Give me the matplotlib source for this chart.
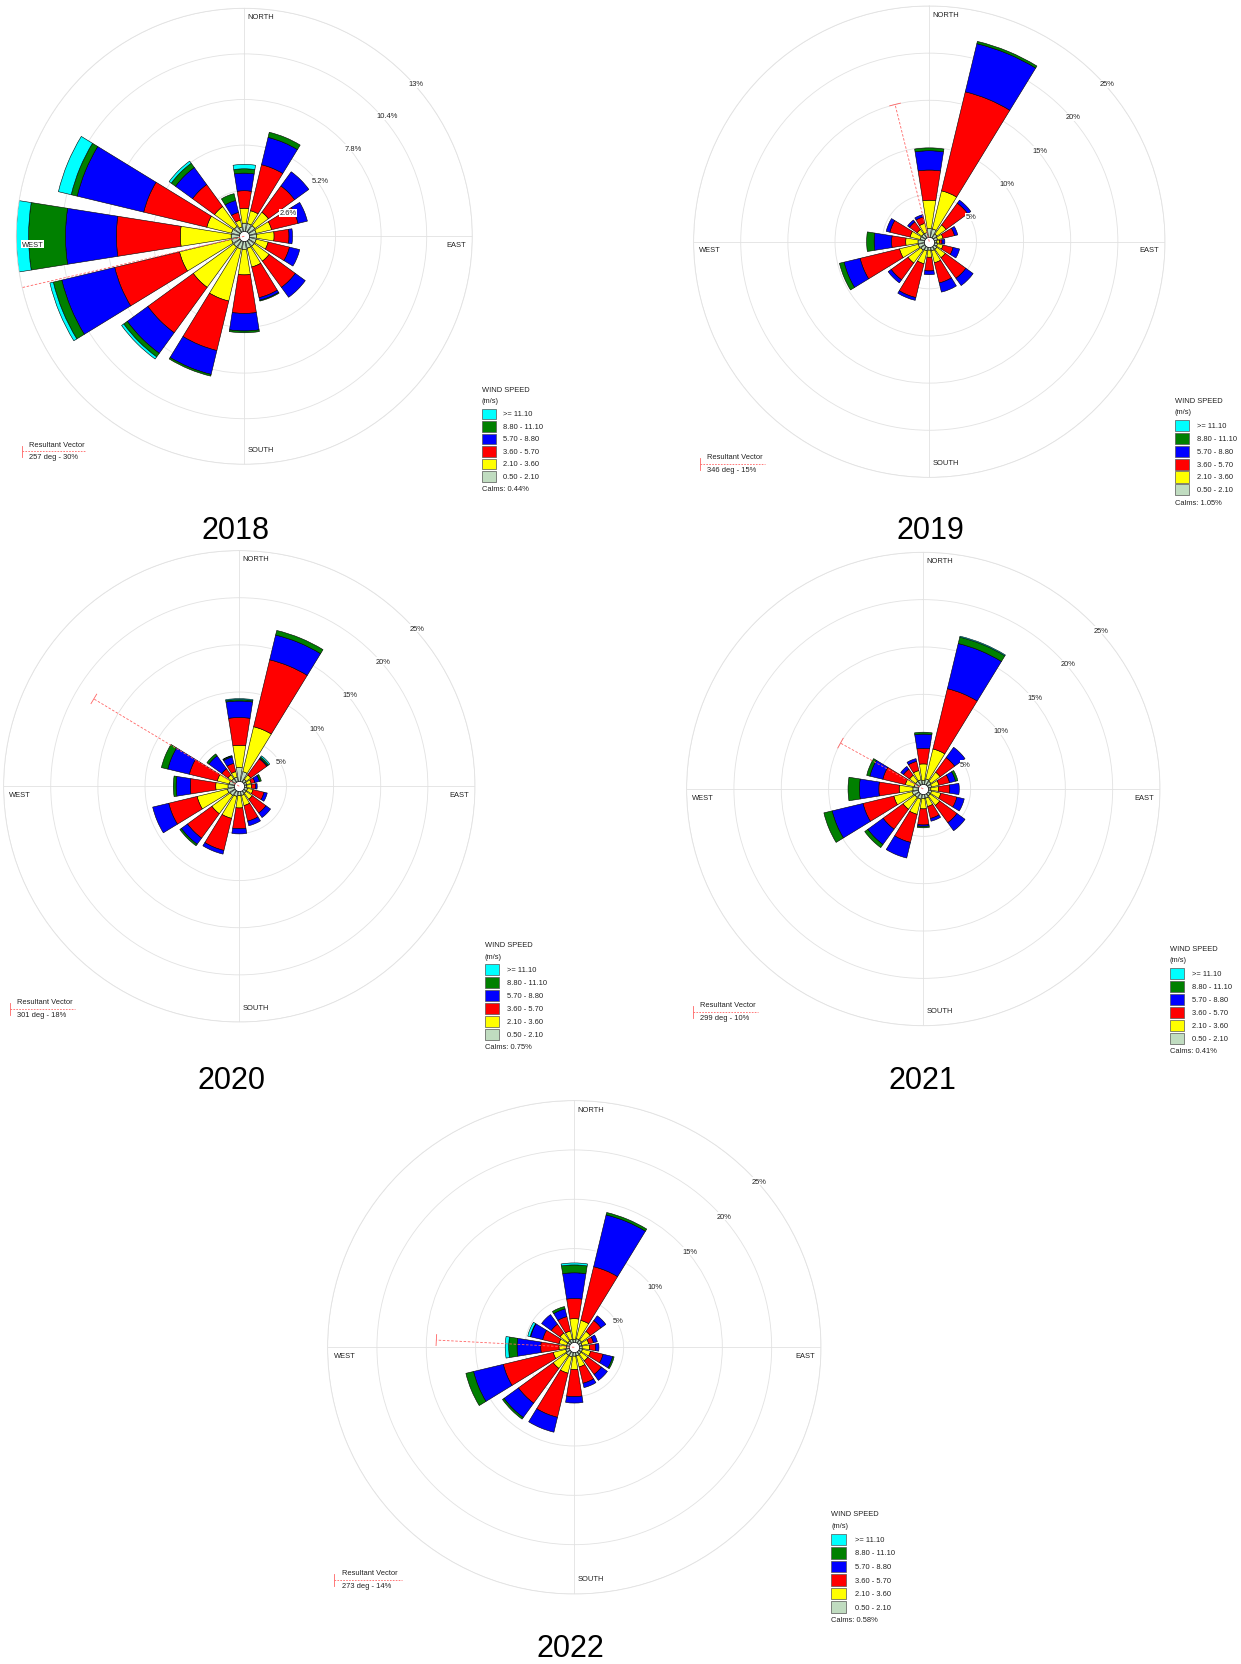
import numpy as np
import matplotlib
matplotlib.use('Agg')
import matplotlib.pyplot as plt
from matplotlib.patches import Rectangle
from matplotlib.lines import Line2D
from matplotlib.transforms import offset_copy

plt.rcParams['font.family'] = ['Liberation Sans', 'DejaVu Sans']

W_PX, H_PX = 1241, 1665

directions = ['N', 'NNE', 'NE', 'ENE', 'E', 'ESE', 'SE', 'SSE',
              'S', 'SSW', 'SW', 'WSW', 'W', 'WNW', 'NW', 'NNW']
dir_deg = np.arange(16) * 22.5

speed_labels = ['0.50 - 2.10', '2.10 - 3.60', '3.60 - 5.70',
                '5.70 - 8.80', '8.80 - 11.10', '>= 11.10']
speed_colors = ['#c0dcc0', '#ffff00', '#ff0000', '#0000ff', '#008000', '#00ffff']

# frequency (%) : one row per speed class, columns N .. NNW
freq_2018 = [
    [0.75, 0.75, 0.75, 0.7, 0.7, 0.7, 0.7, 0.7, 0.75, 0.75, 0.75, 0.75, 0.75, 0.75, 0.7, 0.55],
    [0.85, 0.75, 0.95, 0.9, 1.0, 0.7, 1.05, 1.1, 1.45, 3.05, 2.85, 3.05, 2.9, 1.45, 1.4, 0.4],
    [1.0, 2.7, 1.85, 1.55, 0.85, 1.25, 1.85, 1.8, 2.2, 2.9, 3.2, 3.8, 3.65, 3.7, 1.55, 0.45],
    [1.0, 1.6, 1.0, 0.55, 0.2, 0.6, 0.7, 0.15, 1.0, 1.4, 1.45, 3.1, 2.9, 3.9, 1.2, 0.7],
    [0.25, 0.3, 0, 0, 0, 0, 0, 0.05, 0.1, 0.1, 0.25, 0.5, 2.1, 0.35, 0.3, 0.4],
    [0.25, 0, 0, 0, 0, 0, 0, 0, 0, 0, 0.15, 0.2, 0.7, 0.75, 0.15, 0],
]
freq_2019 = [
    [1.4, 1.4, 1.0, 0.9, 0.8, 0.9, 1.0, 1.0, 0.9, 1.0, 1.1, 1.2, 1.2, 1.0, 1.0, 1.0],
    [3.0, 4.15, 1.2, 0.6, 0.3, 0.6, 1.1, 1.3, 0.75, 1.4, 1.7, 2.05, 1.3, 1.1, 0.6, 1.0],
    [3.2, 10.8, 2.85, 1.25, 0.25, 1.1, 2.7, 2.2, 1.45, 3.7, 2.2, 4.3, 1.5, 2.2, 1.0, 0.7],
    [2.05, 5.25, 0.4, 0.35, 0.3, 0.7, 0.95, 1.0, 0.4, 0.3, 0.4, 1.75, 1.85, 0.4, 0.25, 0.25],
    [0.3, 0.25, 0, 0, 0, 0, 0, 0, 0, 0, 0, 0.5, 0.8, 0, 0, 0],
    [0, 0, 0, 0, 0, 0, 0, 0, 0, 0, 0, 0, 0, 0, 0, 0],
]
freq_2020 = [
    [2.0, 1.6, 0.9, 0.8, 0.8, 0.9, 0.9, 1.0, 1.0, 1.1, 1.2, 1.3, 1.2, 1.1, 1.0, 1.0],
    [2.35, 4.9, 0.6, 0.5, 0.5, 0.6, 0.8, 1.1, 1.3, 2.4, 2.4, 3.3, 1.3, 1.3, 0.5, 0.6],
    [2.95, 7.3, 2.1, 0.4, 0.45, 1.2, 1.8, 1.7, 2.2, 3.5, 3.2, 3.1, 2.7, 3.05, 0.8, 0.9],
    [1.75, 2.7, 0.1, 0.5, 0.15, 0.35, 0.6, 0.5, 0.55, 0.4, 0.8, 1.75, 1.5, 2.35, 1.7, 0.7],
    [0.15, 0.5, 0.15, 0.2, 0, 0, 0, 0, 0, 0, 0.2, 0, 0.3, 0.7, 0.25, 0.1],
    [0.1, 0, 0.15, 0, 0, 0, 0, 0, 0, 0, 0, 0, 0, 0, 0, 0.05],
]
freq_2021 = [
    [0.9, 1.1, 1.0, 0.9, 0.8, 0.9, 0.9, 1.0, 1.0, 1.1, 1.1, 1.2, 1.1, 1.0, 1.0, 1.0],
    [1.75, 3.25, 1.2, 0.8, 0.8, 1.0, 1.25, 0.9, 1.1, 1.65, 1.55, 2.0, 1.45, 0.95, 0.8, 1.0],
    [1.65, 6.55, 1.9, 1.15, 1.2, 1.75, 2.25, 1.3, 1.7, 3.05, 2.6, 3.35, 2.15, 2.45, 0.8, 1.0],
    [1.5, 4.9, 1.35, 0.65, 1.0, 0.8, 1.05, 0.3, 0.15, 1.7, 2.0, 3.35, 2.05, 1.4, 0.35, 0.3],
    [0.2, 0.7, 0, 0.25, 0, 0, 0, 0, 0.15, 0, 0.4, 0.9, 1.2, 0.35, 0, 0],
    [0, 0.1, 0, 0, 0, 0, 0, 0, 0, 0, 0, 0, 0, 0, 0, 0],
]
freq_2022 = [
    [0.8, 0.9, 0.9, 0.8, 0.8, 0.85, 0.85, 0.9, 0.9, 1.0, 1.0, 0.9, 0.8, 0.8, 0.8, 0.85],
    [2.1, 1.9, 1.1, 0.7, 0.75, 0.85, 0.85, 1.15, 1.35, 1.7, 1.65, 1.3, 0.75, 0.8, 1.0, 0.85],
    [2.05, 5.6, 1.35, 0.5, 0.6, 1.3, 1.7, 1.7, 2.75, 4.6, 4.35, 5.2, 1.85, 1.7, 1.1, 1.5],
    [2.6, 5.4, 0.6, 0.4, 0.35, 1.0, 0.75, 0.45, 0.65, 1.55, 1.8, 3.1, 2.4, 1.25, 1.2, 0.8],
    [0.8, 0.25, 0, 0, 0, 0.15, 0, 0, 0, 0, 0.2, 0.8, 0.85, 0.05, 0, 0.25],
    [0.2, 0, 0, 0, 0, 0, 0, 0, 0, 0, 0, 0, 0.35, 0.25, 0, 0],
]

years = ['2018', '2019', '2020', '2021', '2022']
freqs = [freq_2018, freq_2019, freq_2020, freq_2021, freq_2022]
calms = ['0.44', '1.05', '0.75', '0.41', '0.58']
res_dir = [257, 346, 301, 299, 273]
res_pct = [30, 15, 18, 10, 14]
ring_steps = [2.6, 5, 5, 5, 5]

# layout in pixels: rose centre x, y, radius of outer ring, title position
panels = [
    (244.3, 237.3, 228.0, 235.7, 530.8),
    (929.3, 242.7, 235.7, 930.0, 530.8),
    (239.3, 787.3, 235.7, 231.4, 1080.7),
    (923.3, 790.0, 236.7, 922.5, 1080.7),
    (574.3, 1348.3, 246.7, 570.0, 1648.7),
]

FS = 5.4
TXT = '#222222'
GRID = '#e2e2e2'
RES_COLOR = '#ff6464'


def draw_rose(fig, cx, cy, R, freq, step, rdeg, rpct):
    rect = [(cx - R) / W_PX, 1 - (cy + R) / H_PX, 2 * R / W_PX, 2 * R / H_PX]
    ax = fig.add_axes(rect, projection='polar')
    ax.set_theta_zero_location('N')
    ax.set_theta_direction(-1)
    rmax = step * 5
    rings = [round(step * i, 1) for i in range(1, 6)]
    ax.set_ylim(0, rmax)
    ax.set_yticks(rings)
    ax.set_yticklabels([])
    ax.set_xticks(np.radians([0, 90, 180, 270]))
    ax.set_xticklabels([])
    ax.grid(True, color=GRID, linewidth=0.6)
    ax.spines['polar'].set_color(GRID)
    ax.spines['polar'].set_linewidth(0.6)
    ax.set_axisbelow(True)

    theta = np.radians(dir_deg)
    bottom = np.zeros(16)
    for k in range(6):
        h = np.array(freq[k], dtype=float)
        m = h > 0
        ax.bar(theta[m], h[m], width=np.radians(18), bottom=bottom[m],
               color=speed_colors[k], edgecolor='black', linewidth=0.4, zorder=2)
        bottom += h

    ax.scatter([0], [0], s=55, c='white', edgecolors='black', linewidths=0.5, zorder=5)

    # resultant vector
    th = np.radians(rdeg)
    ax.plot([th, th], [0, rpct], color=RES_COLOR, lw=0.6, ls=(0, (3, 2)), zorder=6)
    hh = 5.5 * rmax / R
    px, py = rpct * np.sin(th), rpct * np.cos(th)
    ux, uy = np.cos(th), -np.sin(th)
    xs = np.array([px - hh * ux, px + hh * ux])
    ys = np.array([py - hh * uy, py + hh * uy])
    ax.plot(np.arctan2(xs, ys), np.hypot(xs, ys), color=RES_COLOR, lw=0.6, zorder=6)

    box = dict(facecolor='white', edgecolor='none', pad=0.4)
    off = offset_copy(ax.transData, fig=fig, x=3.3, y=-5, units='dots')
    for r in rings:
        ax.text(np.radians(45), r, f'{r:g}%', transform=off, ha='left', va='top',
                fontsize=FS, color=TXT, bbox=box, zorder=10)

    ax.text(0.507, 0.99, 'NORTH', transform=ax.transAxes, ha='left', va='top',
            fontsize=FS, color=TXT, bbox=box, zorder=10)
    ax.text(0.507, 0.024, 'SOUTH', transform=ax.transAxes, ha='left', va='bottom',
            fontsize=FS, color=TXT, bbox=box, zorder=10)
    ax.text(0.987, 0.483, 'EAST', transform=ax.transAxes, ha='right', va='center',
            fontsize=FS, color=TXT, bbox=box, zorder=10)
    ax.text(0.012, 0.483, 'WEST', transform=ax.transAxes, ha='left', va='center',
            fontsize=FS, color=TXT, bbox=box, zorder=10)
    return ax


def draw_legends(fig, cx, cy, R, calm, rdeg, rpct):
    def P(a, b):
        return (cx + a * R) / W_PX, 1 - (cy + b * R) / H_PX

    fig.text(*P(1.041, 0.673), 'WIND SPEED', fontsize=FS, color=TXT, ha='left', va='center')
    fig.text(*P(1.041, 0.721), '(m/s)', fontsize=FS, color=TXT, ha='left', va='center')
    for k in range(6):
        idx = 5 - k
        b = 0.779 + 0.0548 * k
        x0, y0 = P(1.041, b + 0.0235)
        fig.add_artist(Rectangle((x0, y0), 0.061 * R / W_PX, 0.047 * R / H_PX,
                                 transform=fig.transFigure, facecolor=speed_colors[idx],
                                 edgecolor='#555555', linewidth=0.5))
        fig.text(*P(1.136, b), speed_labels[idx], fontsize=FS, color=TXT, ha='left', va='center')
    fig.text(*P(1.041, 1.105), f'Calms: {calm}%', fontsize=FS, color=TXT, ha='left', va='center')

    fig.text(*P(-0.943, 0.911), 'Resultant Vector', fontsize=FS, color=TXT, ha='left', va='center')
    x0, y0 = P(-0.974, 0.943)
    x1, _ = P(-0.699, 0.943)
    fig.add_artist(Line2D([x0, x1], [y0, y0], transform=fig.transFigure,
                          color=RES_COLOR, lw=0.6, ls=(0, (2, 1.5))))
    tx, ty0 = P(-0.974, 0.918)
    _, ty1 = P(-0.974, 0.969)
    fig.add_artist(Line2D([tx, tx], [ty0, ty1], transform=fig.transFigure,
                          color=RES_COLOR, lw=0.6))
    fig.text(*P(-0.943, 0.967), f'{rdeg} deg - {rpct}%', fontsize=FS, color=TXT,
             ha='left', va='center')


fig = plt.figure(figsize=(W_PX / 100, H_PX / 100), dpi=100, facecolor='white')

for i, year in enumerate(years):
    cx, cy, R, tx, ty = panels[i]
    draw_rose(fig, cx, cy, R, freqs[i], ring_steps[i], res_dir[i], res_pct[i])
    draw_legends(fig, cx, cy, R, calms[i], res_dir[i], res_pct[i])
    fig.text(tx / W_PX, 1 - ty / H_PX, year, fontsize=22, color='black',
             ha='center', va='center')

fig.savefig('out.png', dpi=100, facecolor='white')
